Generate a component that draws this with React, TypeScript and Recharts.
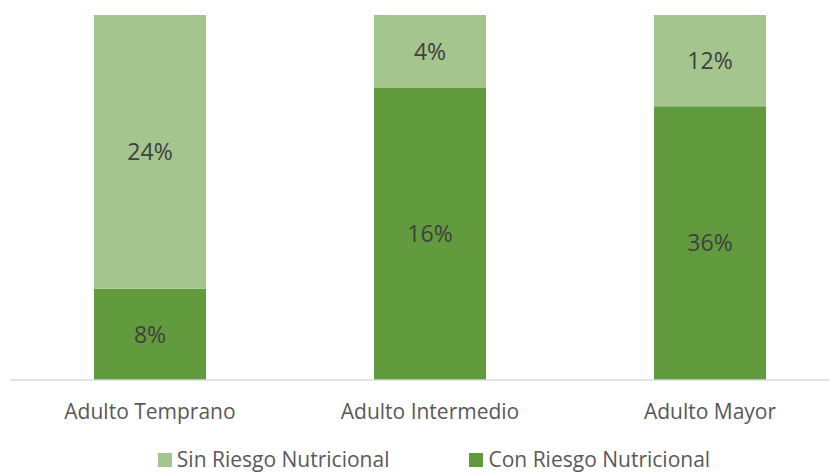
import { BarChart, Bar, XAxis, YAxis, Legend, LabelList } from 'recharts'

const categories = ['Adulto Temprano', 'Adulto Intermedio', 'Adulto Mayor']
const sinRiesgo = [24, 4, 12]
const conRiesgo = [8, 16, 36]

const SIN_COLOR = '#A5C58F'
const CON_COLOR = '#629B3E'
const FONT = '"Open Sans", "Noto Sans", sans-serif'

const data = categories.map((name, i) => ({
  name,
  sin: sinRiesgo[i],
  con: conRiesgo[i],
}))

const legendItems = [
  { label: 'Sin Riesgo Nutricional', color: SIN_COLOR },
  { label: 'Con Riesgo Nutricional', color: CON_COLOR },
]

function LegendContent() {
  return (
    <div
      style={{
        display: 'flex',
        justifyContent: 'center',
        gap: 80,
        fontFamily: FONT,
        fontSize: 21,
        lineHeight: '25px',
        color: '#595959',
        height: 44,
        alignItems: 'flex-end',
        paddingLeft: 8,
        boxSizing: 'border-box',
      }}
    >
      {legendItems.map(item => (
        <div key={item.label} style={{ display: 'flex', alignItems: 'center' }}>
          <span style={{ width: 14, height: 14, background: item.color, marginRight: 5, display: 'inline-block' }} />
          <span>{item.label}</span>
        </div>
      ))}
    </div>
  )
}

export default function App() {
  return (
    <div style={{ width: 829, height: 464, overflow: 'hidden' }}>
      <BarChart
        width={842}
        height={464}
        data={data}
        stackOffset="expand"
        barSize={112}
        margin={{ top: 7, right: 0, left: 2, bottom: 0 }}
      >
        <XAxis
          dataKey="name"
          axisLine={{ stroke: '#D9D9D9', strokeWidth: 1.5 }}
          tickLine={false}
          tickMargin={18}
          height={48}
          tick={{ fontSize: 21, fill: '#595959', fontFamily: FONT }}
        />
        <YAxis hide domain={[0, 1]} />
        <Legend verticalAlign="bottom" content={<LegendContent />} />
        <Bar dataKey="con" stackId="a" fill={CON_COLOR} isAnimationActive={false}>
          <LabelList
            dataKey="con"
            position="center"
            formatter={(v: number) => `${v}%`}
            style={{ fontSize: 23, fill: '#404040', fontFamily: FONT }}
          />
        </Bar>
        <Bar dataKey="sin" stackId="a" fill={SIN_COLOR} isAnimationActive={false}>
          <LabelList
            dataKey="sin"
            position="center"
            formatter={(v: number) => `${v}%`}
            style={{ fontSize: 23, fill: '#404040', fontFamily: FONT }}
          />
        </Bar>
      </BarChart>
    </div>
  )
}
